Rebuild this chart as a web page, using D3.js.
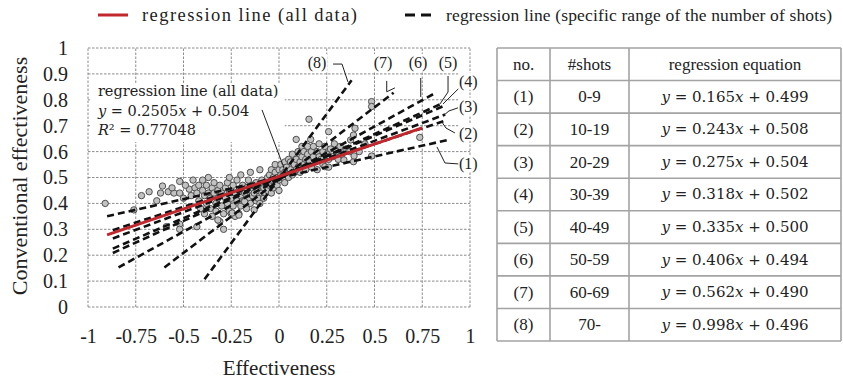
<!DOCTYPE html>
<html>
<head>
<meta charset="utf-8">
<script src="https://cdn.jsdelivr.net/npm/d3@7"></script>
<style>
  body { margin: 0; background: #fff; }
  text { font-family: "Liberation Serif", "Times New Roman", serif; fill: #222; }
  .math { font-family: "DejaVu Serif", serif; }
</style>
</head>
<body>
<div id="container"></div>
<script>
/* DATA */
const xTicks = [-1, -0.75, -0.5, -0.25, 0, 0.25, 0.5, 0.75, 1];
const yTicks = [0, 0.1, 0.2, 0.3, 0.4, 0.5, 0.6, 0.7, 0.8, 0.9, 1];

const lineNames = ["(1)", "(2)", "(3)", "(4)", "(5)", "(6)", "(7)", "(8)"];
const shotRanges = ["0-9", "10-19", "20-29", "30-39", "40-49", "50-59", "60-69", "70-"];
const slopes = [0.165, 0.243, 0.275, 0.318, 0.335, 0.406, 0.562, 0.998];
const intercepts = [0.499, 0.508, 0.504, 0.502, 0.500, 0.494, 0.490, 0.496];
const xFrom = [-0.90, -0.87, -0.87, -0.87, -0.87, -0.84, -0.60, -0.39];
const xTo = [0.89, 0.87, 0.87, 0.87, 0.86, 0.82, 0.60, 0.38];

const allSlope = 0.2505, allIntercept = 0.504, allR2 = "0.77048";
const allRange = [-0.9, 0.75];

// effectiveness, conventional effectiveness
const points = [
  [-0.91,0.40],[-0.76,0.375],[-0.72,0.43],[-0.68,0.445],[-0.62,0.44],[-0.61,0.467],[-0.58,0.445],
  [-0.55,0.44],[-0.52,0.485],[-0.52,0.44],[-0.59,0.31],[-0.52,0.32],[-0.52,0.30],[-0.47,0.455],
  [-0.49,0.47],[-0.64,0.41],[-0.56,0.46],[-0.50,0.42],[-0.45,0.49],[-0.43,0.31],[-0.46,0.43],
  [-0.44,0.46],[-0.43,0.44],[-0.42,0.47],[-0.42,0.41],[-0.41,0.38],[-0.40,0.45],[-0.40,0.49],
  [-0.39,0.43],[-0.39,0.36],[-0.38,0.47],[-0.38,0.40],[-0.37,0.44],[-0.37,0.50],[-0.36,0.42],
  [-0.36,0.38],[-0.35,0.46],[-0.35,0.35],[-0.34,0.44],[-0.34,0.48],[-0.33,0.40],[-0.33,0.37],
  [-0.32,0.45],[-0.32,0.42],[-0.31,0.33],[-0.31,0.47],[-0.30,0.39],[-0.30,0.44],[-0.29,0.30],
  [-0.29,0.36],[-0.28,0.42],[-0.28,0.46],[-0.27,0.40],[-0.27,0.48],[-0.26,0.37],[-0.26,0.44],
  [-0.25,0.36],[-0.25,0.42],[-0.24,0.47],[-0.24,0.39],[-0.23,0.44],[-0.23,0.35],[-0.22,0.41],
  [-0.22,0.49],[-0.21,0.36],[-0.21,0.45],[-0.20,0.43],[-0.20,0.39],[-0.19,0.47],[-0.19,0.41],
  [-0.18,0.41],[-0.18,0.44],[-0.17,0.38],[-0.17,0.46],[-0.16,0.42],[-0.16,0.49],[-0.15,0.40],
  [-0.15,0.45],[-0.14,0.43],[-0.14,0.47],[-0.13,0.375],[-0.13,0.44],[-0.12,0.41],[-0.12,0.48],
  [-0.11,0.45],[-0.11,0.42],[-0.10,0.47],[-0.10,0.40],[-0.09,0.44],[-0.09,0.49],[-0.08,0.46],
  [-0.08,0.42],[-0.07,0.48],[-0.07,0.44],[-0.06,0.50],[-0.06,0.45],[-0.26,0.50],[-0.20,0.51],
  [-0.15,0.52],[-0.10,0.53],[-0.245,0.363],[-0.18,0.407],[-0.21,0.355],[-0.32,0.336],
  [-0.05,0.47],[-0.05,0.51],[-0.04,0.44],[-0.04,0.49],[-0.04,0.53],[-0.03,0.46],[-0.03,0.50],
  [-0.02,0.48],[-0.02,0.52],[-0.02,0.55],[-0.01,0.47],[-0.01,0.50],[0.00,0.49],[0.00,0.53],
  [0.00,0.45],[0.01,0.51],[0.01,0.55],[0.02,0.50],[0.02,0.53],[0.03,0.48],[0.03,0.52],
  [0.03,0.56],[0.04,0.51],[0.04,0.54],[0.05,0.50],[0.05,0.57],
  [0.06,0.53],[0.06,0.56],[0.07,0.51],[0.07,0.59],[0.08,0.55],[0.08,0.52],[0.09,0.57],
  [0.09,0.647],[0.10,0.54],[0.10,0.60],[0.11,0.56],[0.11,0.52],[0.12,0.58],[0.12,0.62],
  [0.13,0.55],[0.13,0.60],[0.14,0.53],[0.14,0.57],[0.15,0.59],[0.15,0.62],[0.157,0.725],
  [0.16,0.56],[0.166,0.647],[0.17,0.60],[0.17,0.54],[0.18,0.58],[0.18,0.62],[0.19,0.56],
  [0.20,0.60],[0.20,0.53],[0.21,0.58],[0.21,0.63],[0.22,0.57],[0.23,0.60],[0.23,0.55],
  [0.24,0.542],[0.24,0.62],[0.25,0.59],[0.26,0.677],[0.26,0.57],[0.27,0.61],[0.28,0.58],
  [0.29,0.63],[0.30,0.60],[0.09,0.53],[0.26,0.54],
  [0.31,0.57],[0.32,0.62],[0.33,0.59],[0.34,0.568],[0.35,0.61],[0.37,0.60],[0.375,0.645],
  [0.39,0.664],[0.39,0.561],[0.393,0.583],[0.398,0.69],[0.42,0.60],[0.45,0.63],[0.485,0.583],
  [0.485,0.793],[0.485,0.774],[0.737,0.655]
];

/* LAYOUT (data units, placed through the scales) */
const labelPos = [[0.991,0.552],[0.991,0.671],[0.991,0.773],[0.991,0.870],
                  [0.885,0.942],[0.728,0.942],[0.545,0.942],[0.199,0.942]];
const leaders = [
  [[0.948,0.552],[0.869,0.556],[0.827,0.618]],
  [[0.921,0.672],[0.874,0.691],[0.853,0.714]],
  [[0.937,0.769],[0.890,0.757],[0.864,0.741]],
  [[0.948,0.849],[0.859,0.784]],
  [[0.885,0.892],[0.885,0.830],[0.843,0.784]],
  [[0.742,0.884],[0.742,0.811]],
  [[0.564,0.873],[0.564,0.831],[0.607,0.846]],
  [[0.283,0.938],[0.330,0.938],[0.361,0.869]]
];

/* CONSTANTS */
const width = 843, height = 382;
const plot = { left: 88, right: 470, top: 48, bottom: 307 };
const red = "#c0282d";

const svg = d3.select("#container")
  .append("svg")
  .attr("width", width)
  .attr("height", height)
  .style("background", "#fff");

/* SCALES */
const xScale = d3.scaleLinear().domain([-1, 1]).range([plot.left, plot.right]);
const yScale = d3.scaleLinear().domain([0, 1]).range([plot.bottom, plot.top]);

// grid
const grid = svg.append("g");
grid.selectAll("line.v")
  .data(xTicks)
  .join("line")
  .attr("x1", d => xScale(d)).attr("x2", d => xScale(d))
  .attr("y1", yScale(0)).attr("y2", yScale(1));
grid.selectAll("line.h")
  .data(yTicks)
  .join("line")
  .attr("class", "h")
  .attr("x1", xScale(-1)).attr("x2", xScale(1))
  .attr("y1", d => yScale(d)).attr("y2", d => yScale(d));
grid.selectAll("line")
  .attr("stroke", "#8c8c8c")
  .attr("stroke-width", 1)
  .attr("stroke-dasharray", "2.5,1.5");

// axes (labels only)
const xAxis = d3.axisBottom(xScale).tickValues(xTicks).tickSize(0).tickPadding(22)
  .tickFormat(d => String(d));
const yAxis = d3.axisLeft(yScale).tickValues(yTicks).tickSize(0).tickPadding(20)
  .tickFormat(d => String(d));

svg.append("g")
  .attr("transform", `translate(0,${plot.bottom})`)
  .call(xAxis)
  .call(g => g.select(".domain").remove())
  .call(g => g.selectAll("text")
    .attr("font-family", "Liberation Serif, serif")
    .attr("font-size", 20)
    .attr("fill", "#222"));

svg.append("g")
  .attr("transform", `translate(${plot.left},0)`)
  .call(yAxis)
  .call(g => g.select(".domain").remove())
  .call(g => g.selectAll("text")
    .attr("font-family", "Liberation Serif, serif")
    .attr("font-size", 20)
    .attr("fill", "#222"));

svg.append("text")
  .attr("x", (plot.left + plot.right) / 2)
  .attr("y", 375)
  .attr("text-anchor", "middle")
  .attr("font-size", 21)
  .text("Effectiveness");

svg.append("text")
  .attr("transform", `translate(27,176) rotate(-90)`)
  .attr("text-anchor", "middle")
  .attr("font-size", 22)
  .text("Conventional effectiveness");

// points
svg.append("g")
  .selectAll("circle")
  .data(points)
  .join("circle")
  .attr("cx", d => xScale(d[0]))
  .attr("cy", d => yScale(d[1]))
  .attr("r", 3.2)
  .attr("fill", "#c2c2c2")
  .attr("stroke", "#4f4f4f")
  .attr("stroke-width", 1);

// dashed regression lines
const fits = slopes.map((m, i) => ({
  m, b: intercepts[i], x0: xFrom[i], x1: xTo[i]
}));
svg.append("g")
  .selectAll("line")
  .data(fits)
  .join("line")
  .attr("x1", d => xScale(d.x0))
  .attr("y1", d => yScale(d.m * d.x0 + d.b))
  .attr("x2", d => xScale(d.x1))
  .attr("y2", d => yScale(d.m * d.x1 + d.b))
  .attr("stroke", "#111")
  .attr("stroke-width", 2.6)
  .attr("stroke-dasharray", "7,4");

// all data line
svg.append("line")
  .attr("x1", xScale(allRange[0]))
  .attr("y1", yScale(allSlope * allRange[0] + allIntercept))
  .attr("x2", xScale(allRange[1]))
  .attr("y2", yScale(allSlope * allRange[1] + allIntercept))
  .attr("stroke", red)
  .attr("stroke-width", 3);

// leader lines
const leaderLine = d3.line().x(d => xScale(d[0])).y(d => yScale(d[1]));
svg.append("g")
  .selectAll("path")
  .data(leaders)
  .join("path")
  .attr("d", leaderLine)
  .attr("fill", "none")
  .attr("stroke", "#222")
  .attr("stroke-width", 1);

// line labels
const labs = svg.append("g")
  .selectAll("g")
  .data(lineNames)
  .join("g")
  .attr("transform", (d, i) => `translate(${xScale(labelPos[i][0])},${yScale(labelPos[i][1])})`);
labs.append("rect")
  .attr("x", -10).attr("y", -9).attr("width", 20).attr("height", 17)
  .attr("fill", "#fff");
labs.append("text")
  .attr("text-anchor", "middle")
  .attr("dy", "0.34em")
  .attr("font-size", 16)
  .text(d => d);

// annotation for all-data line
svg.append("rect")
  .attr("x", xScale(-0.99)).attr("y", yScale(0.865))
  .attr("width", xScale(0.03) - xScale(-0.99))
  .attr("height", yScale(0.637) - yScale(0.865))
  .attr("fill", "#fff");
svg.append("line")
  .attr("x1", xScale(-0.089)).attr("y1", yScale(0.761))
  .attr("x2", xScale(0.026)).attr("y2", yScale(0.537))
  .attr("stroke", "#222").attr("stroke-width", 1);

const ann = svg.append("text")
  .attr("class", "math")
  .attr("font-size", 14.5)
  .attr("x", xScale(-0.948));
ann.append("tspan").attr("x", xScale(-0.948)).attr("y", yScale(0.813))
  .text("regression line (all data)");
const l2 = ann.append("tspan").attr("x", xScale(-0.948)).attr("y", yScale(0.739));
l2.append("tspan").attr("font-style", "italic").text("y");
l2.append("tspan").text(` = ${allSlope}`);
l2.append("tspan").attr("font-style", "italic").text("x");
l2.append("tspan").text(` + ${allIntercept}`);
const l3 = ann.append("tspan").attr("x", xScale(-0.948)).attr("y", yScale(0.663));
l3.append("tspan").attr("font-style", "italic").text("R");
l3.append("tspan").text(`² = ${allR2}`);

// legend
const legend = svg.append("g");
legend.append("line")
  .attr("x1", 98).attr("x2", 128).attr("y1", 15).attr("y2", 15)
  .attr("stroke", red).attr("stroke-width", 3);
legend.append("text")
  .attr("x", 142).attr("y", 21)
  .attr("font-size", 18.5)
  .attr("textLength", 215).attr("lengthAdjust", "spacing")
  .text("regression line (all data)");
legend.append("line")
  .attr("x1", 405).attr("x2", 435).attr("y1", 15).attr("y2", 15)
  .attr("stroke", "#111").attr("stroke-width", 3)
  .attr("stroke-dasharray", "10,6");
legend.append("text")
  .attr("x", 446).attr("y", 21)
  .attr("font-size", 17.5)
  .attr("textLength", 386).attr("lengthAdjust", "spacing")
  .text("regression line (specific range of the number of shots)");

/* TABLE */
const colEdges = [497, 550, 629, 841];
const rowScale = d3.scaleBand().domain(d3.range(lineNames.length + 1)).range([48, 341]);
const table = svg.append("g");

table.selectAll("line.row")
  .data(d3.range(lineNames.length + 2))
  .join("line")
  .attr("x1", colEdges[0]).attr("x2", colEdges[3])
  .attr("y1", d => rowScale.range()[0] + d * rowScale.bandwidth())
  .attr("y2", d => rowScale.range()[0] + d * rowScale.bandwidth());
table.selectAll("line.col")
  .data(colEdges)
  .join("line")
  .attr("class", "col")
  .attr("x1", d => d).attr("x2", d => d)
  .attr("y1", rowScale.range()[0]).attr("y2", rowScale.range()[1]);
table.selectAll("line")
  .attr("stroke", "#a3a3a3")
  .attr("stroke-width", 1.6);

const colMid = i => (colEdges[i] + colEdges[i + 1]) / 2;
const header = ["no.", "#shots", "regression equation"];
table.selectAll("text.head")
  .data(header)
  .join("text")
  .attr("class", "head")
  .attr("x", (d, i) => colMid(i))
  .attr("y", rowScale(0) + rowScale.bandwidth() / 2)
  .attr("dy", "0.33em")
  .attr("text-anchor", "middle")
  .attr("font-size", 17)
  .text(d => d);

const rows = table.selectAll("g.row")
  .data(lineNames.map((n, i) => ({ n, s: shotRanges[i], m: slopes[i], b: intercepts[i] })))
  .join("g")
  .attr("class", "row")
  .attr("transform", (d, i) => `translate(0,${rowScale(i + 1) + rowScale.bandwidth() / 2})`);
rows.append("text")
  .attr("x", colMid(0)).attr("dy", "0.33em").attr("text-anchor", "middle")
  .attr("font-size", 17).text(d => d.n);
rows.append("text")
  .attr("x", colMid(1)).attr("dy", "0.33em").attr("text-anchor", "middle")
  .attr("font-size", 17).text(d => d.s);
const eq = rows.append("text")
  .attr("class", "math")
  .attr("x", colMid(2)).attr("dy", "0.33em").attr("text-anchor", "middle")
  .attr("font-size", 15);
eq.append("tspan").attr("font-style", "italic").text("y");
eq.append("tspan").text(d => ` = ${d.m.toFixed(3)}`);
eq.append("tspan").attr("font-style", "italic").text("x");
eq.append("tspan").text(d => ` + ${d.b.toFixed(3)}`);
</script>
</body>
</html>
